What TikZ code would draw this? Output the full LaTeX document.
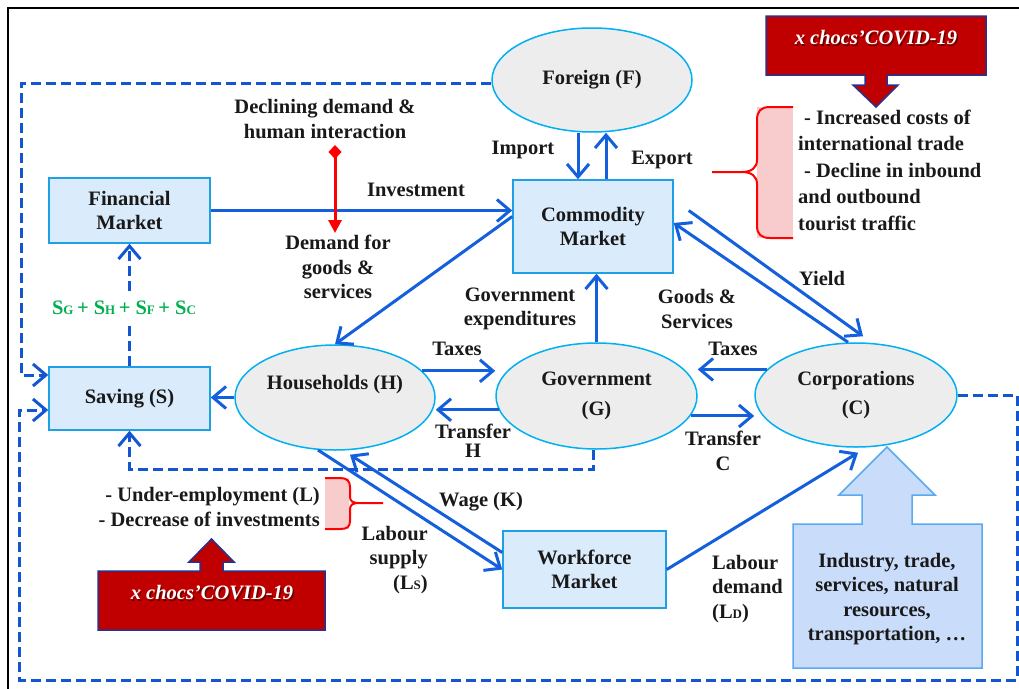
\documentclass[tikz,border=0pt]{standalone}
\usepackage{fontspec}
\setmainfont{Liberation Serif}
\usetikzlibrary{arrows.meta,shapes.geometric,calc}
\definecolor{ln}{RGB}{20,95,220}
\definecolor{dl}{RGB}{20,85,210}
\definecolor{bxb}{RGB}{30,160,230}
\definecolor{bxf}{RGB}{218,236,252}
\definecolor{elb}{RGB}{0,176,240}
\definecolor{elf}{RGB}{237,237,237}
\definecolor{cvf}{RGB}{192,0,0}
\definecolor{cvb}{RGB}{40,50,140}
\definecolor{inf}{RGB}{201,221,250}
\definecolor{inb}{RGB}{90,170,240}
\definecolor{pk}{RGB}{248,204,204}
\definecolor{rd}{RGB}{255,0,0}
\definecolor{gr}{RGB}{0,176,80}
\definecolor{tx}{RGB}{25,25,25}
\newcommand\subcapx[1]{{\fontsize{13}{13}\selectfont #1}}
\begin{document}
\begin{tikzpicture}[x=1pt,y=-1pt,
  every node/.style={font=\fontsize{20.5}{24.5}\selectfont\bfseries, text=tx},
  bx/.style={draw=bxb, fill=bxf, line width=1.5pt, align=center, inner sep=0pt},
  el/.style={ellipse, draw=elb, fill=elf, line width=1.5pt, align=center, inner sep=0pt},
  lbl/.style={align=center, inner sep=0pt},
  arr/.style={draw=ln, line width=3pt, -{Straight Barb[length=13pt,width=22pt]}},
  darr/.style={draw=dl, line width=3pt, dash pattern=on 10pt off 5pt, -{Straight Barb[length=13pt,width=22pt]}},
  dln/.style={draw=dl, line width=3pt, dash pattern=on 10pt off 5pt},
  cvshape/.style={fill=cvf, draw=cvb, line width=1.5pt},
  cvtext/.style={font=\fontsize{20.5}{24.5}\selectfont\bfseries\itshape, text=white, inner sep=0pt},
  cvshadow/.style={font=\fontsize{20.5}{24.5}\selectfont\bfseries\itshape, text=black, opacity=0.45, inner sep=0pt},
]
\useasboundingbox (0,0) rectangle (1019,688);
\fill[white] (0,0) rectangle (1019,688);

% outer frame
\coordinate (fr1) at (8,692);
\coordinate (fr2) at (8,8);
\coordinate (fr3) at (1023,8);
\draw[line width=2pt, black] (fr1) -- (fr2) -- (fr3);

% main nodes
\node[el, minimum width=200pt, minimum height=104pt] (fo) at (592,80) {Foreign (F)};
\node[bx, minimum width=160pt, minimum height=93pt] (cm) at (593,226.5) {Commodity\\Market};
\node[bx, minimum width=161pt, minimum height=65pt] (fm) at (129.5,210.5) {Financial\\Market};
\node[bx, minimum width=161pt, minimum height=63pt] (sv) at (129.5,398.5) {Saving (S)};
\node[el, minimum width=200pt, minimum height=105pt] (hh) at (335,397.5) {Households (H)\\[6pt]};
\node[el, minimum width=201pt, minimum height=106pt] (gv) at (596.5,396) {Government\\[5pt](G)};
\node[el, minimum width=202pt, minimum height=104pt] (co) at (856,395) {Corporations\\[5pt](C)};
\node[bx, minimum width=163pt, minimum height=77pt] (wf) at (584.5,569.5) {Workforce\\Market};

% COVID box top
\draw[cvshape] (766,16) -- (986,16) -- (986,75) -- (887,75) -- (887,85) -- (898,85) -- (876,107)
  -- (853,85) -- (865,85) -- (865,75) -- (766,75) -- cycle;
\node[cvshadow] at (877.5,39.5) {x chocs’COVID-19};
\node[cvtext] (cv1) at (876,38) {x chocs’COVID-19};

% COVID box bottom
\draw[cvshape] (98,571) -- (200,571) -- (200,562) -- (189,562) -- (211.5,539) -- (234,562)
  -- (223,562) -- (223,571) -- (325,571) -- (325,630) -- (98,630) -- cycle;
\node[cvshadow] at (213.5,594.5) {x chocs’COVID-19};
\node[cvtext] (cv2) at (212,593) {x chocs’COVID-19};

% industry arrow
\draw[fill=inf, draw=inb, line width=1.5pt] (793,524) -- (862,524) -- (862,495) -- (839,495) -- (887,447)
  -- (935,495) -- (912,495) -- (912,524) -- (982,524) -- (982,668) -- (793,668) -- cycle;
\node[lbl] (ind) at (887,599) {Industry, trade,\\services, natural\\resources,\\transportation, …};

% braces
\fill[pk] (757,107) rectangle (793,238);
\draw[rd, line width=2pt] (793,107) -- (770,107) .. controls (761,107) and (757,111) .. (757,120)
  -- (757,160) .. controls (757,168) and (751,172) .. (742,172) -- (712,172);
\draw[rd, line width=2pt] (742,172) .. controls (751,172) and (757,176) .. (757,184)
  -- (757,226) .. controls (757,234) and (761,238) .. (770,238) -- (793,238);

\fill[pk] (325,478) rectangle (349,529);
\draw[rd, line width=2pt] (325,478) -- (340,478) .. controls (347,478) and (350,481) .. (350,487)
  -- (350,497) .. controls (350,501) and (353,503) .. (358,503) -- (383,503);
\draw[rd, line width=2pt] (358,503) .. controls (353,503) and (350,505) .. (350,509)
  -- (350,521) .. controls (350,527) and (347,529) .. (340,529) -- (325,529);

% text blocks
\node[lbl, align=left, anchor=west, font=\fontsize{20.5}{26.5}\selectfont\bfseries] (t1) at (798,170)
  {\hspace*{6pt}- Increased costs of\\international trade\\\hspace*{6pt}- Decline in inbound\\and outbound\\tourist traffic};
\node[lbl, align=right, anchor=east] (t2) at (320,507) {- Under-employment (L)\\- Decrease of investments};

% labels
\node[lbl] (l1) at (325,119) {Declining demand \&\\human interaction};
\node[lbl] (l2) at (338,267) {Demand for\\goods \&\\services};
\node[lbl] (l3) at (416,190) {Investment};
\node[lbl] (l4) at (523,150) {Import};
\node[lbl] (l5) at (662,160) {Export};
\node[lbl] (l6) at (520,309) {Government\\expenditures};
\node[lbl] (l7) at (697,309) {Goods \&\\Services};
\node[lbl] (l8) at (822,278) {Yield};
\node[lbl] (l9) at (457,349) {Taxes};
\node[lbl] (l10) at (473,441) {Transfer\\[-6pt]H};
\node[lbl] (l11) at (733,349) {Taxes};
\node[lbl] (l12) at (723,451) {Transfer\\C};
\node[lbl] (l13) at (481,502) {Wage (K)};
\node[lbl, align=right, anchor=east] (l14) at (428,560) {Labour\\supply\\(L\subcapx{S})};
\node[lbl, align=left, anchor=west] (l15) at (712,589) {Labour\\demand\\(L\subcapx{D})};

% solid connectors
\draw[arr] ([xshift=-14pt]fo.south) -- ([xshift=-15pt]cm.north);
\draw[arr] ([xshift=13pt]cm.north) -- ([xshift=14pt]fo.south);
\draw[arr] (fm.east) -- (fm.east -| cm.west);
\draw[arr] ([yshift=10pt]cm.west) -- (hh.north);
\draw[arr] (hh.west) -- (hh.west -| sv.east);
\draw[arr] (gv.north) -- (gv.north |- cm.south);
\draw[arr] (hh.17) -- (hh.17 -| gv.west);
\draw[arr] (gv.188) -- (gv.188 -| hh.east);
\draw[arr] (co.164) -- (co.164 -| gv.east);
\draw[arr] (gv.-12.8) -- (gv.-12.8 -| co.west);
\draw[arr] ([xshift=15pt,yshift=16pt]cm.east) -- ([xshift=7pt,yshift=6pt]co.north);
\draw[arr] ([xshift=-8pt]co.north) -- ([yshift=3.5pt]cm.east);
\draw[arr] (hh.-108) -- (wf.west);
\draw[arr] ([yshift=17pt]wf.west) -- ([xshift=15pt,yshift=-4pt]hh.south);
\draw[arr] (wf.east) -- ([xshift=2pt,yshift=-5pt]co.south);

% dashed connectors
\coordinate (d1a) at (21,83);
\coordinate (d2a) at (1017,680);
\coordinate (d2b) at (19,680);
\coordinate (d3) at (129.5,469);
\draw[darr] ([yshift=-3pt]fo.west) -- (d1a) |- ([yshift=23.5pt]sv.west);
\draw[darr] (co.east) -| (d2a) -- (d2b) |- ([yshift=-11.5pt]sv.west);
\draw[darr] ([xshift=-3pt]gv.south) |- (d3) -- (sv.south);
\draw[darr] (sv.north) -- (fm.south);

% savings sum label over the dashed line
\node[lbl, text=gr, fill=white, inner xsep=2pt, inner ysep=10pt] (sg) at (124,308) {S\subcapx{G}\,+ S\subcapx{H}\,+ S\subcapx{F}\,+ S\subcapx{C}};

% red double arrow
\coordinate (rt) at (335,145);
\coordinate (rb) at (335,233);
\draw[draw=rd, line width=3pt, {Diamond[length=14pt,width=13pt]}-{Triangle[length=13pt,width=13pt]}] (rt) -- (rb);
\end{tikzpicture}
\end{document}
